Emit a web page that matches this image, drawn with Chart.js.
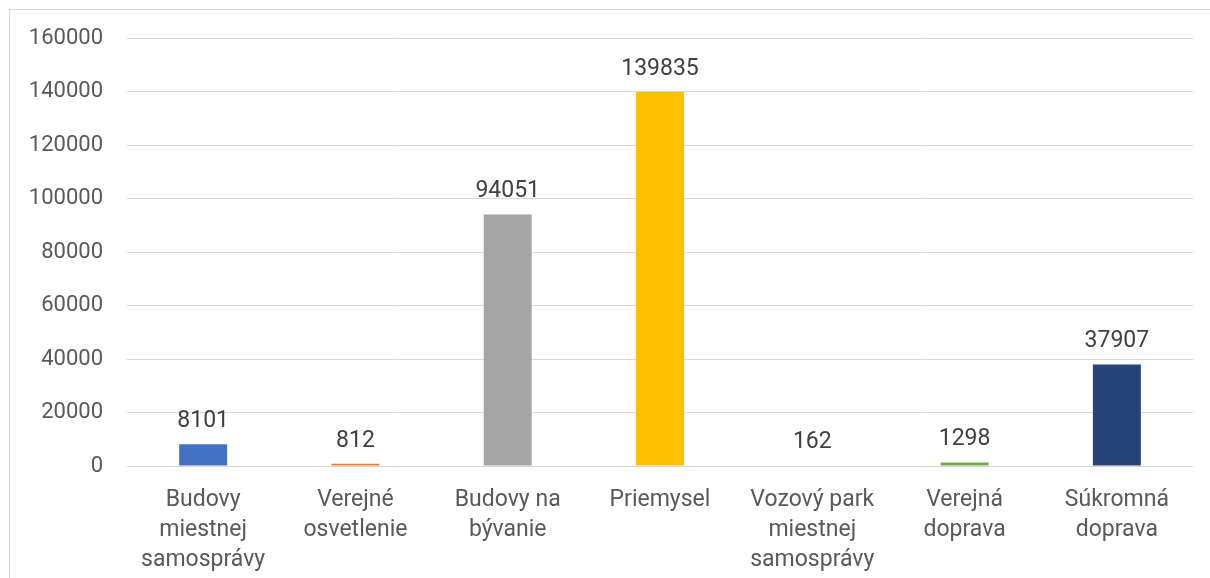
<!DOCTYPE html>
<html>
<head>
<meta charset="utf-8">
<script src="https://cdn.jsdelivr.net/npm/chart.js@4/dist/chart.umd.min.js"></script>
<style>
  html, body { margin: 0; padding: 0; background: #fff; }
  #wrap { position: relative; width: 1210px; height: 578px; overflow: hidden; }
  #frame {
    position: absolute; left: 9px; top: 9px; width: 1220px; height: 600px;
    border: 1px solid #d9d9d9; box-sizing: border-box; pointer-events: none;
  }
</style>
</head>
<body>
<div id="wrap">
  <canvas id="chart" width="1210" height="578"></canvas>
  <div id="frame"></div>
</div>
<script>
// ── Data ──────────────────────────────────
const categories = [
  ['Budovy', 'miestnej', 'samosprávy'],
  ['Verejné', 'osvetlenie'],
  ['Budovy na', 'bývanie'],
  ['Priemysel'],
  ['Vozový park', 'miestnej', 'samosprávy'],
  ['Verejná', 'doprava'],
  ['Súkromná', 'doprava'],
];
const values = [8101, 812, 94051, 139835, 162, 1298, 37907];
const barColors = ['#4472C4', '#ED7D31', '#A5A5A5', '#FFC000', '#5B9BD5', '#70AD47', '#264478'];
const yTicks = [0, 20000, 40000, 60000, 80000, 100000, 120000, 140000, 160000];

const FONT = "Roboto, 'DejaVu Sans', sans-serif";

// ── Value labels above bars ───────────────
const valueLabels = {
  id: 'valueLabels',
  afterDatasetsDraw(chart) {
    const ctx = chart.ctx;
    const meta = chart.getDatasetMeta(0);
    ctx.save();
    ctx.font = `23px ${FONT}`;
    ctx.fillStyle = '#404040';
    ctx.textAlign = 'center';
    ctx.textBaseline = 'middle';
    meta.data.forEach((bar, i) => {
      ctx.fillText(String(values[i]), bar.x, bar.y - 23);
    });
    ctx.restore();
  },
};

// ── Chart ─────────────────────────────────
new Chart(document.getElementById('chart'), {
  type: 'bar',
  data: {
    labels: categories,
    datasets: [{
      data: values,
      backgroundColor: barColors,
      borderWidth: 0,
      barPercentage: 0.63,
      categoryPercentage: 0.5,
    }],
  },
  options: {
    responsive: false,
    animation: false,
    events: [],
    layout: { padding: { top: 38, right: 17, bottom: 0, left: 0 } },
    plugins: {
      legend: { display: false },
      tooltip: { enabled: false },
    },
    scales: {
      x: {
        grid: { display: false },
        border: { display: false },
        ticks: {
          color: '#595959',
          font: { family: FONT, size: 23, lineHeight: 1.3 },
          padding: 11,
          maxRotation: 0,
          autoSkip: false,
        },
        afterFit: (scale) => { scale.height = 112; },
      },
      y: {
        min: 0,
        max: 160000,
        afterBuildTicks: (scale) => { scale.ticks = yTicks.map(v => ({ value: v })); },
        grid: { color: '#d9d9d9', lineWidth: 1, drawTicks: false },
        border: { display: false },
        ticks: {
          color: '#595959',
          font: { family: FONT, size: 22 },
          padding: 24,
          callback: (v) => String(v),
        },
        afterFit: (scale) => { scale.width = 127; },
      },
    },
  },
  plugins: [valueLabels],
});
</script>
</body>
</html>
